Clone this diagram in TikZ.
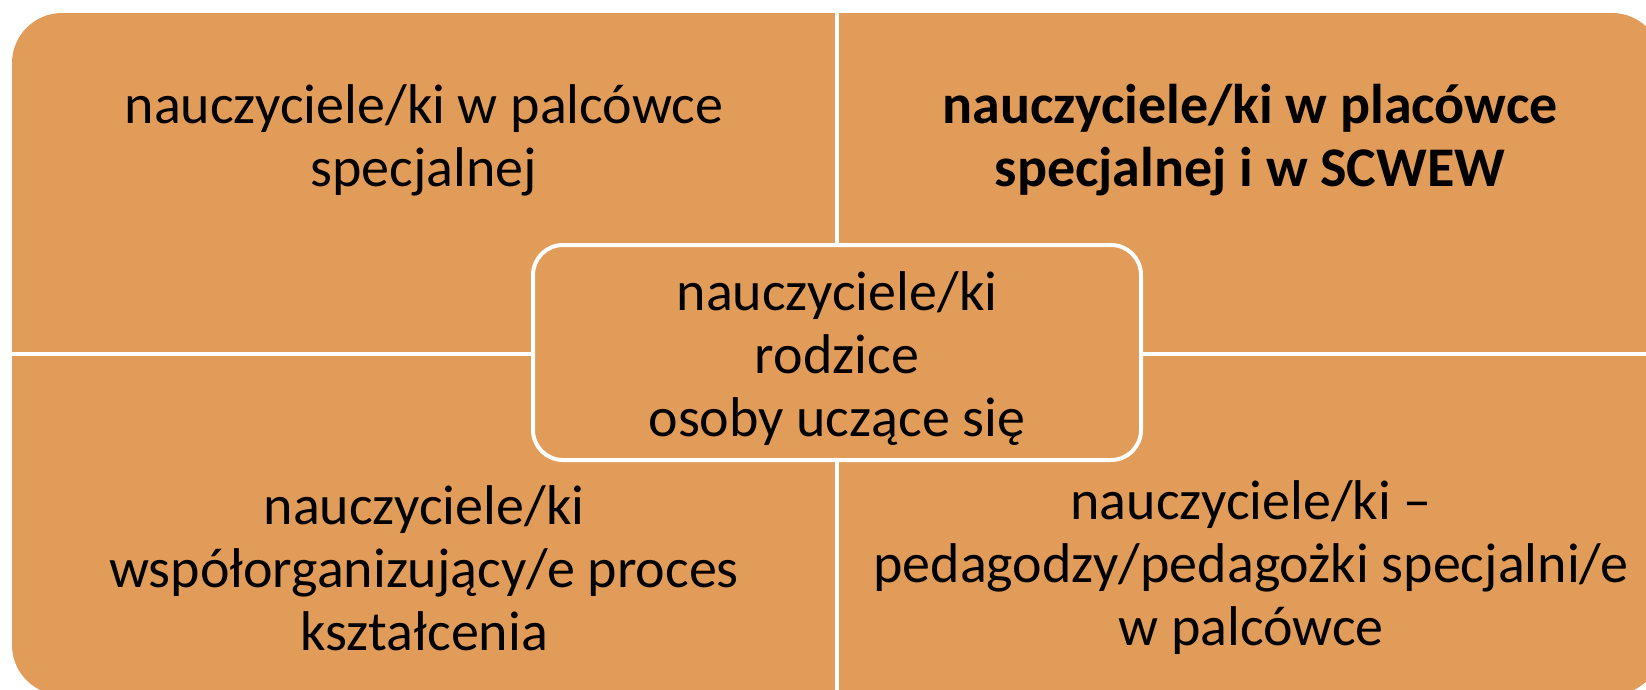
\documentclass[tikz,border=0pt]{standalone}
\usepackage{fontspec}
\setmainfont{Carlito}
\definecolor{matrixorange}{RGB}{225,156,89}

\begin{document}
\begin{tikzpicture}[x=1pt,y=-1pt,
 quadtext/.style={align=center, font=\fontsize{56}{63}\selectfont, inner sep=0pt},
 divider/.style={white, line width=4pt}]
 \useasboundingbox (0,0) rectangle (1646,689);
 \clip (0,0) rectangle (1646,689);
 % matrix background
 \fill[matrixorange, rounded corners=50pt] (12,13) rectangle (1662,695);
 \draw[divider] (837,13) -- (837,695);
 \draw[divider] (12,354) -- (1662,354);
 % quadrants
 \node[quadtext] (tl) at (424,140) {nauczyciele/ki w palcówce\\specjalnej};
 \node[quadtext, font=\fontsize{56}{63}\selectfont\bfseries] (tr) at (1250,140) {nauczyciele/ki w placówce\\specjalnej i w SCWEW};
 \node[quadtext] (bl) at (424,568) {nauczyciele/ki\\współorganizujący/e proces\\kształcenia};
 \node[quadtext] (br) at (1251,568) {nauczyciele/ki --\\pedagodzy/pedagożki specjalni/e\\w palcówce};
 % centre
 \filldraw[divider, fill=matrixorange, rounded corners=30pt] (533,245) rectangle (1141,460);
 \node[quadtext] (hub) at (837,359) {nauczyciele/ki\\rodzice\\osoby uczące się};
\end{tikzpicture}
\end{document}
